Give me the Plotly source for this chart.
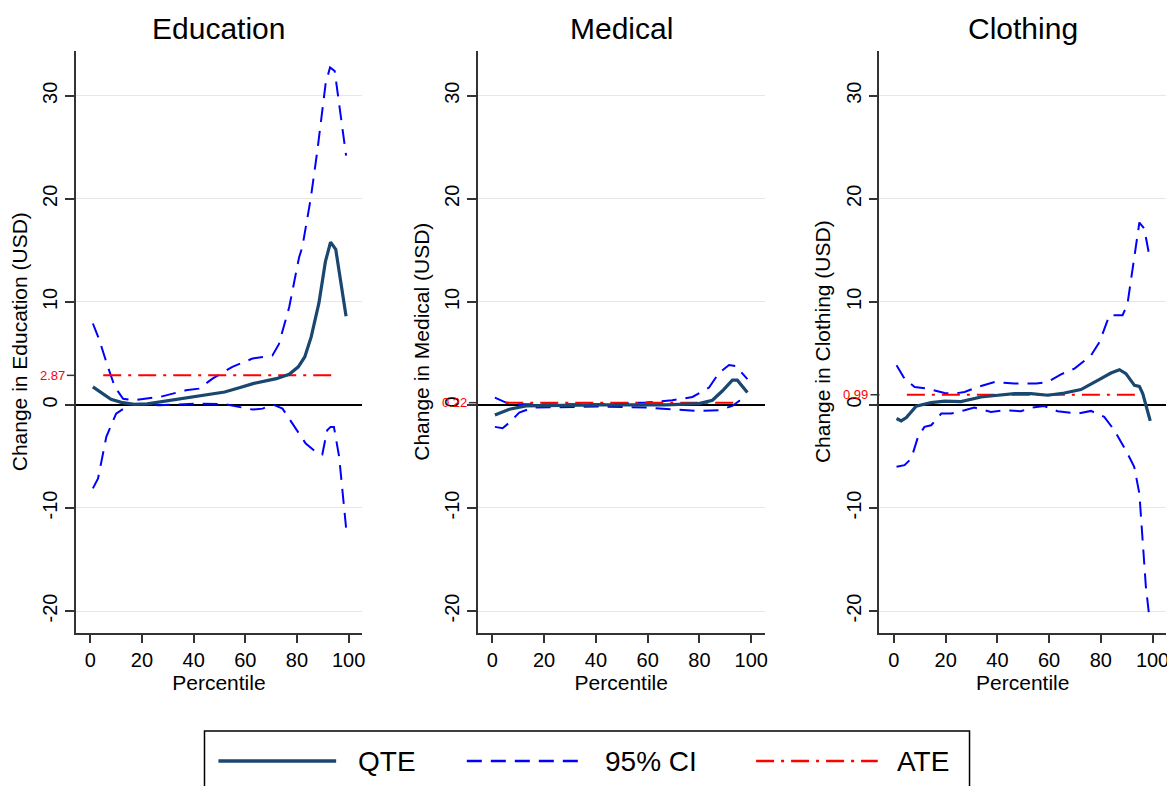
import plotly.graph_objects as go

# ---------------- data ----------------
panels = ["Education", "Medical", "Clothing"]
tick_x = [0, 20, 40, 60, 80, 100]
tick_y = [-20, -10, 0, 10, 20, 30]
tick_y_text = ["-20", "-10", "0", "10", "20", "30"]

ate_x = [5, 95]
ate_values = [2.87, 0.22, 0.99]

edu_qte_x = [1, 4, 8, 12, 17, 22, 30, 42, 52, 58, 63, 72, 77, 80.5, 83, 85.5, 88.5, 91, 93, 95, 99]
edu_qte_y = [1.75, 1.2, 0.55, 0.25, 0.06, 0.1, 0.4, 0.8, 1.25, 1.7, 2.07, 2.55, 2.97, 3.7, 4.65, 6.6, 9.9, 13.9, 15.8, 15.1, 8.6]
edu_hi_x = [1, 3.5, 6.4, 9.5, 12.7, 16.5, 27, 37, 42, 47.3, 55, 62.8, 70.5, 73, 77, 80.8, 82.1, 85.3, 87.9, 89.8, 91.1, 92.8, 94.6, 99]
edu_hi_y = [7.9, 6.3, 4.0, 1.74, 0.6, 0.45, 0.78, 1.42, 1.58, 2.55, 3.7, 4.5, 4.8, 5.9, 9.5, 14.3, 15.35, 20.0, 24.7, 28.6, 31.2, 32.75, 32.4, 24.2]
edu_lo_x = [1, 3, 6.2, 10, 13.9, 16.5, 26.7, 42.2, 52.5, 62.8, 66.7, 70.5, 74.4, 78.2, 83.4, 88.5, 89.8, 91.7, 93, 94.3, 96.3, 99]
edu_lo_y = [-8.1, -7.14, -3.1, -0.84, -0.19, 0.06, -0.03, 0.13, 0.06, -0.45, -0.36, 0.06, -0.36, -1.8, -3.75, -4.8, -4.8, -2.45, -2.13, -2.13, -5.0, -11.9]

med_qte_x = [1, 6.6, 13, 41.3, 67, 79.8, 85, 88.8, 92.7, 94.6, 98.5]
med_qte_y = [-0.97, -0.42, -0.1, 0.0, 0.0, 0.13, 0.45, 1.35, 2.4, 2.4, 1.2]
med_hi_x = [1, 5.3, 10.4, 41.3, 59.3, 69.5, 77.3, 83.7, 87.5, 91.4, 94, 98.5]
med_hi_y = [0.71, 0.23, 0.06, 0.06, 0.23, 0.45, 0.77, 1.68, 3.1, 3.87, 3.77, 2.5]
med_lo_x = [1, 4, 6.6, 10.4, 15.6, 41.3, 59.3, 69.5, 79.8, 87.5, 92.7, 95.3, 98.5]
med_lo_y = [-2.13, -2.26, -1.71, -0.74, -0.26, -0.16, -0.26, -0.42, -0.58, -0.52, -0.1, 0.39, 0.45]

clo_qte_x = [1, 2.8, 4.8, 8.6, 14.4, 19.6, 25.9, 33.7, 40.2, 46.6, 53, 59.5, 65.9, 72.3, 78.8, 83.9, 87.2, 89.7, 93, 94.9, 96.2, 99.1]
clo_qte_y = [-1.32, -1.55, -1.23, -0.13, 0.23, 0.36, 0.32, 0.77, 0.94, 1.1, 1.1, 0.94, 1.16, 1.49, 2.39, 3.1, 3.42, 3.04, 1.9, 1.8, 1.1, -1.55]
clo_hi_x = [1, 4.1, 8, 13.1, 19.6, 23.4, 27.3, 32.4, 38.9, 46.6, 55, 59.5, 64.6, 69.8, 76.2, 79.5, 83.3, 88.4, 90.3, 93, 94.9, 96.8, 99.1]
clo_hi_y = [3.84, 2.55, 1.74, 1.58, 1.16, 1.1, 1.26, 1.74, 2.23, 2.07, 2.07, 2.23, 2.97, 3.52, 4.81, 6.1, 8.7, 8.7, 9.8, 14.3, 17.7, 17.1, 14.0]
clo_lo_x = [1, 4.1, 6.7, 9.3, 11.8, 14.4, 18.3, 22.1, 27.3, 31.1, 37.5, 42.7, 49.1, 53, 58.1, 63.3, 71, 76.2, 81.3, 85.2, 90.3, 92.9, 94.9, 96.2, 97.4, 98.7]
clo_lo_y = [-6.0, -5.84, -5.2, -3.1, -2.13, -1.97, -0.84, -0.84, -0.52, -0.26, -0.68, -0.52, -0.61, -0.26, -0.1, -0.61, -0.84, -0.58, -1.16, -2.45, -4.71, -6.0, -8.6, -13.8, -17.6, -20.5]

series = [
    (edu_qte_x, edu_qte_y, edu_hi_x, edu_hi_y, edu_lo_x, edu_lo_y),
    (med_qte_x, med_qte_y, med_hi_x, med_hi_y, med_lo_x, med_lo_y),
    (clo_qte_x, clo_qte_y, clo_hi_x, clo_hi_y, clo_lo_x, clo_lo_y),
]

# ---------------- styles ----------------
OFF = 8  # page body margin in the browser
W, H = 1175 - OFF, 786 - OFF
FONT = "Liberation Sans, Arial, Helvetica, sans-serif"
QTE_C = "#1a476f"
CI_C = "#0000ff"
ATE_C = "#ff0000"
AX_C = "#333333"
CI_DASH = "15px,9px"
ATE_DASH = "18px,7px,3px,7px"


def px(x):
    return (x - OFF) / W


def py(y):
    return 1 - (y - OFF) / H


x_domains = [(76, 363), (479, 766.7), (881.7, 1169)]
y_dom = [py(632.7), py(50.7)]
x_range = [-5.6, 105.2]
y_range = [-22.1, 34.37]

fig = go.Figure()
layout = dict(
    width=W, height=H,
    margin=dict(l=0, r=0, t=0, b=0),
    paper_bgcolor="white", plot_bgcolor="white",
    showlegend=False,
    font=dict(family=FONT, color="black"),
)
annotations = []
shapes = []

for i, name in enumerate(panels):
    sfx = "" if i == 0 else str(i + 1)
    xr, yr = "x" + sfx, "y" + sfx
    qx, qy, hx, hy, lx, ly = series[i]
    fig.add_trace(go.Scatter(x=hx, y=hy, mode="lines", xaxis=xr, yaxis=yr,
                             line=dict(color=CI_C, width=2, dash=CI_DASH), name="95% CI"))
    fig.add_trace(go.Scatter(x=lx, y=ly, mode="lines", xaxis=xr, yaxis=yr,
                             line=dict(color=CI_C, width=2, dash=CI_DASH), name="95% CI"))
    fig.add_trace(go.Scatter(x=ate_x, y=[ate_values[i]] * len(ate_x), mode="lines", xaxis=xr, yaxis=yr,
                             line=dict(color=ATE_C, width=2, dash=ATE_DASH), name="ATE"))
    fig.add_trace(go.Scatter(x=qx, y=qy, mode="lines", xaxis=xr, yaxis=yr,
                             line=dict(color=QTE_C, width=3.2), name="QTE"))

    x0, x1 = x_domains[i]
    layout["xaxis" + sfx] = dict(
        domain=[px(x0), px(x1)], range=x_range, anchor=yr,
        tickvals=tick_x, ticks="outside", ticklen=9, tickwidth=1.5, tickcolor=AX_C,
        showline=True, linecolor=AX_C, linewidth=1.5, showgrid=False, zeroline=False,
        tickfont=dict(size=20, family=FONT),
        title=dict(text="Percentile", font=dict(size=21, family=FONT), standoff=2),
    )
    layout["yaxis" + sfx] = dict(
        domain=y_dom, range=y_range, anchor=xr,
        tickvals=tick_y, ticktext=tick_y_text, ticks="outside", ticklen=9, tickwidth=1.5,
        tickcolor=AX_C, tickangle=-90,
        showline=True, linecolor=AX_C, linewidth=1.5,
        showgrid=True, gridcolor="#e6e6e6", gridwidth=1.2,
        zeroline=True, zerolinecolor="black", zerolinewidth=2,
        tickfont=dict(size=20, family=FONT),
        title=dict(text=f"Change in {name} (USD)", font=dict(size=21, family=FONT), standoff=6),
    )
    # panel title
    annotations.append(dict(text=name, x=(px(x0) + px(x1)) / 2, y=py(28), xref="paper", yref="paper",
                            xanchor="center", yanchor="middle", showarrow=False,
                            font=dict(size=30, family=FONT, color="black")))
    # red ATE tick label
    annotations.append(dict(text=f"{ate_values[i]:.2f}", x=0, xref=xr + " domain", y=ate_values[i], yref=yr,
                            xanchor="right", yanchor="middle", xshift=-9, showarrow=False,
                            font=dict(size=13, family=FONT, color=ATE_C)))
    shapes.append(dict(type="line", xref=xr + " domain", yref=yr, x0=-9 / (x1 - x0), x1=0,
                       y0=ate_values[i], y1=ate_values[i], line=dict(color=AX_C, width=1.5)))

# ---------------- legend (drawn box, like the original) ----------------
leg_y = py(761)
shapes.append(dict(type="rect", xref="paper", yref="paper", x0=px(205), x1=px(972), y0=-0.05, y1=py(731),
                   line=dict(color="black", width=1.5), fillcolor="white", layer="below"))
legend_items = [
    ("QTE", QTE_C, 3.5, "solid", 219, 337, 357),
    ("95% CI", CI_C, 2.5, CI_DASH, 468, 586, 605),
    ("ATE", ATE_C, 2.5, ATE_DASH, 758, 880, 897),
]
for label, col, wdt, dash, lx0, lx1, tx in legend_items:
    shapes.append(dict(type="line", xref="paper", yref="paper", x0=px(lx0), x1=px(lx1), y0=leg_y, y1=leg_y,
                       line=dict(color=col, width=wdt, dash=dash)))
    annotations.append(dict(text=label, x=px(tx), y=leg_y, xref="paper", yref="paper",
                            xanchor="left", yanchor="middle", showarrow=False,
                            font=dict(size=28, family=FONT, color="black")))

layout["annotations"] = annotations
layout["shapes"] = shapes
fig.update_layout(**layout)
fig.write_html("out.html")
